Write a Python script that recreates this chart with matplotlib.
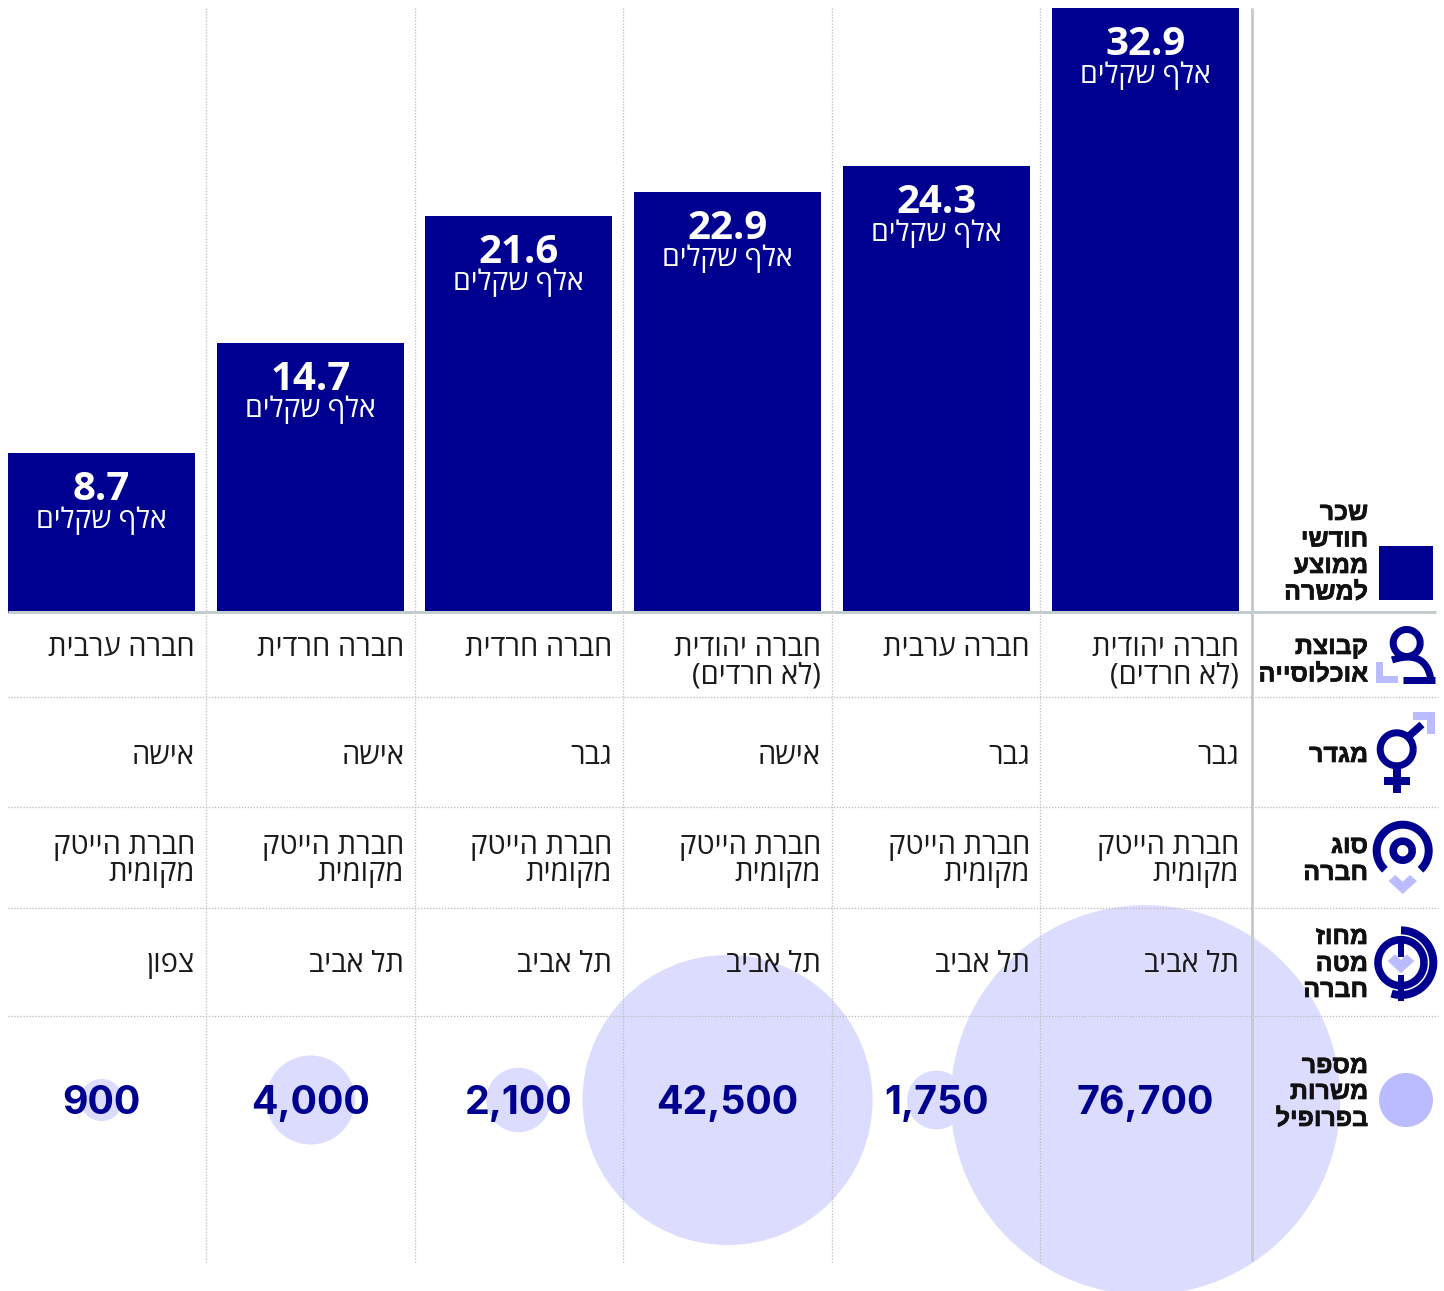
#!/usr/bin/env python
import numpy as np
import matplotlib
matplotlib.use("Agg")
import matplotlib.pyplot as plt
import matplotlib.patheffects as pe
from matplotlib.patches import Circle, Polygon, Rectangle

plt.rcParams["font.family"] = ["Open Sans", "Liberation Sans", "DejaVu Sans"]

# Columns run left to right as drawn.
salaries = [8.7, 14.7, 21.6, 22.9, 24.3, 32.9]
population = ["חברה ערבית", "חברה חרדית", "חברה חרדית",
              "חברה יהודית\n(לא חרדים)", "חברה ערבית", "חברה יהודית\n(לא חרדים)"]
gender = ["אישה", "אישה", "גבר", "אישה", "גבר", "גבר"]
company_type = ["חברת הייטק\nמקומית"] * 6
hq_district = ["צפון", "תל אביב", "תל אביב", "תל אביב", "תל אביב", "תל אביב"]
positions = [900, 4000, 2100, 42500, 1750, 76700]
unit_label = "אלף שקלים"

row_labels = ["שכר\nחודשי\nממוצע\nלמשרה", "קבוצת\nאוכלוסייה", "מגדר",
              "סוג\nחברה", "מחוז\nמטה\nחברה", "מספר\nמשרות\nבפרופיל"]

WIDTH, HEIGHT = 1444, 1291
NAVY = "#000090"
LILAC = "#bbbbff"
PALE = "#dcdcff"
GREY = "#c4cdcd"
DOT = "#bdbdbd"
INK = "#1a1a1a"
PX = 0.72  # points per pixel at dpi 100

centers = [101.5, 310.5, 518.5, 727.5, 936.5, 1145.5]
BAR_WIDTH = 187
BASELINE = 613  # bars run down behind the grey rule


def visual(text):
    # matplotlib has no bidi, so lay the glyphs out in visual order. Reversal puts the
    # closing bracket first, and it has to look like an opening one there.
    return text[::-1].translate(str.maketrans("()", ")("))


def put_lines(ax, x, baselines, text, **kwargs):
    for y, line in zip(baselines, text.split("\n")):
        ax.text(x, y, visual(line), ha="right", va="baseline", **kwargs)


def stroke(ax, xs, ys, width, color=NAVY, cap="butt", zorder=6):
    ax.plot(xs, ys, color=color, lw=width * PX, solid_capstyle=cap,
            solid_joinstyle="miter", zorder=zorder)


def arc(ax, cx, cy, r, start, end, width, color=NAVY):
    # Angles in degrees, counter-clockwise as seen on screen.
    t = np.radians(np.linspace(start, end, 120))
    stroke(ax, cx + r * np.cos(t), cy - r * np.sin(t), width, color)


def zoom_poly(ax, x0, y0, points, color=LILAC):
    pts = [(x0 + x / 3, y0 + y / 3) for x, y in points]
    ax.add_patch(Polygon(pts, closed=True, facecolor=color, edgecolor="none", zorder=5))


fig = plt.figure(figsize=(WIDTH / 100, HEIGHT / 100), dpi=100)
ax = fig.add_axes([0, 0, 1, 1])
ax.set_xlim(0, WIDTH)
ax.set_ylim(HEIGHT, 0)
ax.autoscale(False)
ax.axis("off")
ax.set_zorder(2)

# Job count circles: area follows the number of positions.
for x, n in zip(centers, positions):
    ax.add_patch(Circle((x, 1100), np.sqrt(n * 0.495), facecolor=PALE, edgecolor="none", zorder=1))

# Table rules
dotted = (0, (1, 1.3))
for x in [205.5, 414.5, 622.5, 831.5, 1039.5]:
    ax.plot([x, x], [8, 1262], color=DOT, lw=1.3 * PX, ls=dotted, dash_capstyle="butt", zorder=2)
for y in [697, 807, 908, 1016]:
    ax.plot([8, 1438], [y, y], color=DOT, lw=1.3 * PX, ls=dotted, dash_capstyle="butt", zorder=2)
ax.plot([1251.5, 1251.5], [8, 1261], color=GREY, lw=3 * PX, solid_capstyle="butt", zorder=3)
ax.plot([8, 1436], [611.5, 611.5], color=GREY, lw=3 * PX, solid_capstyle="butt", zorder=3)

# Salary bars
bar_ax = fig.add_axes([0, (HEIGHT - BASELINE) / HEIGHT, 1, (BASELINE - 8) / HEIGHT])
bar_ax.patch.set_alpha(0)
bar_ax.set_xlim(0, WIDTH)
bar_ax.set_ylim(0, 32.9)
bar_ax.axis("off")
bar_ax.set_zorder(1)
bar_ax.bar(centers, salaries, width=BAR_WIDTH, color=NAVY)
for x, v in zip(centers, salaries):
    bar_ax.annotate(f"{v:.1f}", (x, v), xytext=(0, -47 * PX), textcoords="offset points",
                    ha="center", va="baseline", color="white", fontsize=29, fontweight="bold")
    bar_ax.annotate(visual(unit_label), (x, v), xytext=(0, -74.5 * PX), textcoords="offset points",
                    ha="center", va="baseline", color="white", fontsize=20.5)

# Table cells
for x, pop, gen, typ, hq, n in zip(centers, population, gender, company_type, hq_district, positions):
    right = x + BAR_WIDTH / 2
    put_lines(ax, right, [656, 683], pop, fontsize=21, color=INK, zorder=7)
    put_lines(ax, right, [764], gen, fontsize=21, color=INK, zorder=7)
    put_lines(ax, right, [854, 881], typ, fontsize=21, color=INK, zorder=7)
    put_lines(ax, right, [972], hq, fontsize=21, color=INK, zorder=7)
    ax.text(x, 1114.5, f"{n:,}", ha="center", va="baseline", color=NAVY,
            fontsize=28.3, fontweight="bold", family=["Inter", "Open Sans"], zorder=7)

# Row headers
header_baselines = [[520, 546.5, 573, 599.5], [654, 681.5], [762], [853, 880],
                    [944, 971, 997], [1073, 1099, 1126]]
heavier = [pe.withStroke(linewidth=0.5, foreground="#111111")]
for ys, label in zip(header_baselines, row_labels):
    put_lines(ax, 1368, ys, label, fontsize=18, fontweight="bold", color="#111111",
              zorder=7, path_effects=heavier)

# Legend swatches
ax.add_patch(Rectangle((1379, 546), 54, 54, facecolor=NAVY, edgecolor="none", zorder=5))
ax.add_patch(Circle((1406, 1100), 27, facecolor=LILAC, edgecolor="none", zorder=5))

# Population icon
arc(ax, 1406.7, 643, 13.5, 0, 360, 7)
t = np.linspace(0, 1, 40)
bx = (1 - t) ** 2 * 1392 + 2 * t * (1 - t) * 1426 + t ** 2 * 1431
by = (1 - t) ** 2 * 660 + 2 * t * (1 - t) * 649 + t ** 2 * 680
stroke(ax, bx, by, 7)
stroke(ax, [1402.7, 1435], [680, 680], 7)
zoom_poly(ax, 1250, 490, [(378, 515), (400, 515), (400, 557), (444, 557), (444, 580), (378, 580)])

# Gender icon
arc(ax, 1396.7, 749.3, 16.5, 0, 360, 7)
stroke(ax, [1409, 1422], [736, 724.5], 7.5)
stroke(ax, [1396.7, 1396.7], [769, 793], 8)
stroke(ax, [1384, 1409.5], [780.7, 780.7], 8)
zoom_poly(ax, 1250, 490, [(490, 666), (555, 666), (555, 732), (530, 732), (530, 690), (490, 690)])

# Company type icon
arc(ax, 1402.7, 850.7, 26, 313 - 360, 227, 8)
arc(ax, 1402.7, 850.7, 9.5, 0, 360, 7.6)
zoom_poly(ax, 1250, 810, [(416, 213), (436, 195), (458, 215), (480, 195), (501, 213), (458, 252)])

# HQ icon
arc(ax, 1401, 962.7, 23, 0, 360, 7.6)
arc(ax, 1401, 962.7, 32.3, -107, 90, 8)
stroke(ax, [1401, 1401], [936, 957], 6)
stroke(ax, [1401, 1401], [975, 1001], 6)
zoom_poly(ax, 1365, 915, [(68, 138), (90, 118), (108, 135), (125, 118), (148, 138), (108, 175)])

fig.savefig("out.png", dpi=100)
